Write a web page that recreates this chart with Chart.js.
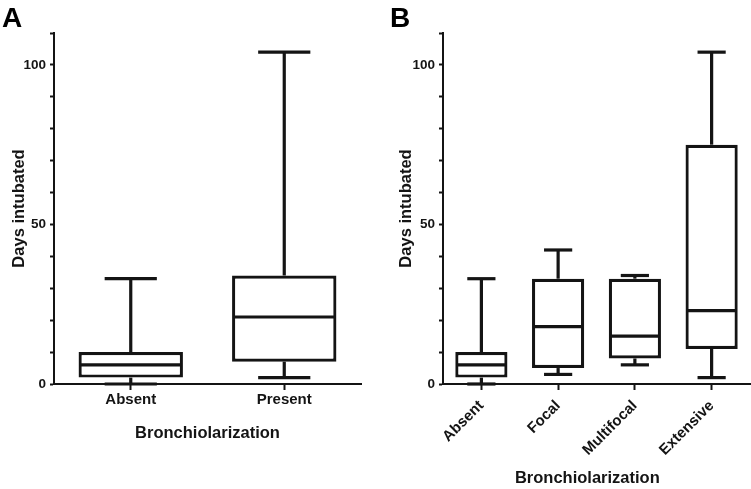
<!DOCTYPE html>
<html lang="en">
<head>
  <meta charset="UTF-8">
  <title>Days intubated by bronchiolarization</title>
  <script src="https://cdn.jsdelivr.net/npm/chart.js"></script>
  <style>
    body { margin: 0; background: #fff; }
    .wrap { position: relative; width: 751px; height: 489px; }
    canvas { position: absolute; top: 0; }
    #panelA { left: 0; }
    #panelB { left: 376px; }
  </style>
</head>
<body>
  <div class="wrap">
    <canvas id="panelA" width="376" height="489"></canvas>
    <canvas id="panelB" width="375" height="489"></canvas>
  </div>
  <script>
    // Panel A: two groups
    const groupsA = ['Absent', 'Present'];
    const minA = [0, 2];
    const q1A = [2, 7];
    const medA = [6, 21];
    const q3A = [10, 34];
    const maxA = [33, 104];

    // Panel B: four grades
    const groupsB = ['Absent', 'Focal', 'Multifocal', 'Extensive'];
    const minB = [0, 3, 6, 2];
    const q1B = [2, 5, 8, 11];
    const medB = [6, 18, 15, 23];
    const q3B = [10, 33, 33, 75];
    const maxB = [33, 42, 34, 104];

    const yTicks = [0, 50, 100];
    const ink = '#141414';
    const fam = "'Liberation Sans', Arial, sans-serif";

    // whiskers, caps and median drawn on top of the floating bars
    const whiskers = {
      id: 'whiskers',
      afterDatasetsDraw(chart, args, opts) {
        const ctx = chart.ctx;
        const y = chart.scales.y;
        const meta = chart.getDatasetMeta(0);
        ctx.save();
        ctx.strokeStyle = ink;
        ctx.lineWidth = 3.2;
        meta.data.forEach((bar, i) => {
          const half = bar.width / 2;
          const cap = half * opts.cap;
          const seg = (x1, y1, x2, y2) => {
            ctx.beginPath(); ctx.moveTo(x1, y1); ctx.lineTo(x2, y2); ctx.stroke();
          };
          seg(bar.x - half + 1.5, y.getPixelForValue(opts.med[i]), bar.x + half - 1.5, y.getPixelForValue(opts.med[i]));
          seg(bar.x, y.getPixelForValue(opts.q3[i]), bar.x, y.getPixelForValue(opts.max[i]));
          seg(bar.x, y.getPixelForValue(opts.q1[i]), bar.x, y.getPixelForValue(opts.min[i]));
          seg(bar.x - cap, y.getPixelForValue(opts.max[i]), bar.x + cap, y.getPixelForValue(opts.max[i]));
          seg(bar.x - cap, y.getPixelForValue(opts.min[i]), bar.x + cap, y.getPixelForValue(opts.min[i]));
        });
        ctx.restore();
      }
    };

    function boxChart(id, letter, groups, mn, q1, med, q3, mx, o) {
      return new Chart(document.getElementById(id), {
        type: 'bar',
        data: {
          labels: groups,
          datasets: [{
            data: q1.map((v, i) => [v, q3[i]]),
            backgroundColor: '#fff',
            borderColor: ink,
            borderWidth: 3.2,
            borderSkipped: false,
            categoryPercentage: 1,
            barPercentage: 0.68
          }]
        },
        plugins: [whiskers],
        options: {
          responsive: false,
          animation: false,
          layout: { padding: { left: o.padLeft, right: o.padRight, top: 0, bottom: 0 } },
          plugins: {
            legend: { display: false },
            tooltip: { enabled: false },
            title: {
              display: true, text: letter, align: 'start', color: '#000',
              font: { family: fam, size: 28, weight: 'bold', lineHeight: 1 },
              padding: { top: 5, bottom: 0 }
            },
            whiskers: { min: mn, q1: q1, med: med, q3: q3, max: mx, cap: o.cap }
          },
          scales: {
            x: {
              offset: true,
              afterFit: s => { s.height = 105; },
              border: { color: ink, width: 2 },
              grid: { offset: false, drawOnChartArea: false, drawTicks: true, tickLength: 6, tickWidth: 2, tickColor: ink },
              ticks: {
                color: ink, padding: o.xTickPad, autoSkip: false,
                minRotation: o.rot, maxRotation: o.rot,
                font: { family: fam, size: 15, weight: 'bold' }
              },
              title: {
                display: true, text: o.xTitle, color: ink,
                font: { family: fam, size: 16.5, weight: 'bold' },
                padding: { top: 0, bottom: o.xTitlePad }
              }
            },
            y: {
              min: 0, max: 110,
              afterFit: s => { s.width = o.yWidth; },
              border: { color: ink, width: 2 },
              grid: { drawOnChartArea: false, drawTicks: true, tickLength: 4, tickWidth: 2, tickColor: ink },
              ticks: {
                stepSize: 10, autoSkip: false, color: ink, padding: 4,
                font: { family: fam, size: 13.5, weight: 'bold' },
                callback: v => yTicks.includes(v) ? v : ''
              },
              title: {
                display: true, text: 'Days intubated', color: ink,
                font: { family: fam, size: 16.5, weight: 'bold' },
                padding: { top: o.yTitlePad, bottom: 0 }
              }
            }
          }
        }
      });
    }

    boxChart('panelA', 'A', groupsA, minA, q1A, medA, q3A, maxA,
      { padLeft: 2, padRight: 15, yWidth: 52, rot: 0, cap: 0.5, xTickPad: 1,
        xTitle: 'Bronchiolarization', xTitlePad: 46, yTitlePad: 8 });
    boxChart('panelB', 'B', groupsB, minB, q1B, medB, q3B, maxB,
      { padLeft: 14, padRight: 1, yWidth: 53, rot: 45, cap: 0.54, xTickPad: 7,
        xTitle: 'Bronchiolarization\u00a0\u00a0\u00a0\u00a0', xTitlePad: 1, yTitlePad: 7 });
  </script>
</body>
</html>
